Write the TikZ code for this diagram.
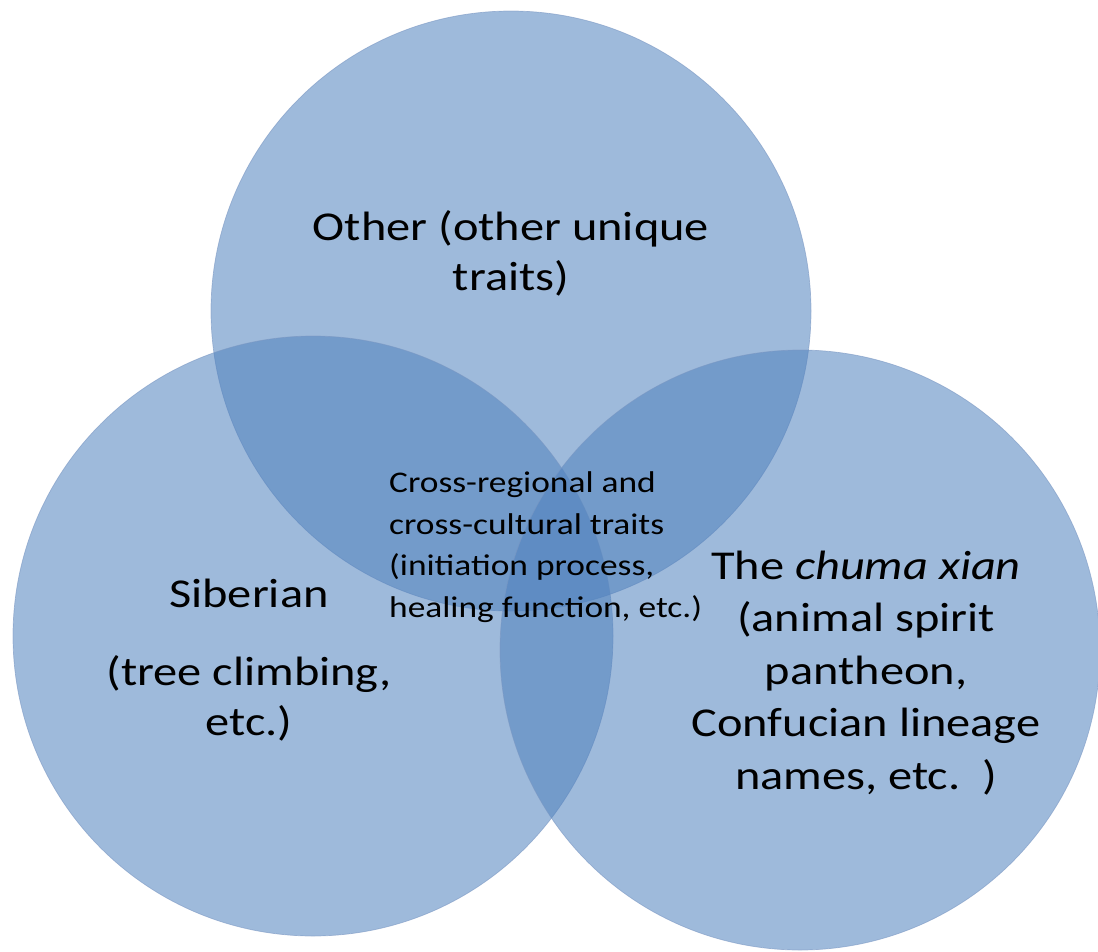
\documentclass[tikz,border=0pt]{standalone}
\usepackage{fontspec}
\setmainfont{Carlito}[FakeStretch=1.18]
\usepackage{tikz}
\definecolor{vennblue}{HTML}{4F81BD}
\definecolor{vennline}{HTML}{7A97C2}
\tikzset{
    venn/.style = {circle, minimum size=600pt, inner sep=0pt, fill=vennblue, fill opacity=0.55, draw=vennline, draw opacity=0.6, line width=0.7pt},
    big_text/.style = {align=center, inner sep=0pt, text=black, font=\fontsize{41}{50}\selectfont},
    small_text/.style = {align=left, inner sep=0pt, text=black, font=\fontsize{30}{41.5}\selectfont}
}

\begin{document}
\begin{tikzpicture}[x=1pt, y=-1pt]
    \useasboundingbox (0,0) rectangle (1098,951);
    % three sets
    \node [venn] (other) at (511,311) {};
    \node [venn] (siberian) at (313,636) {};
    \node [venn] (chuma) at (800,650) {};
    % labels
    \node [big_text] (other_label) at (511,253) {Other (other unique\\traits)};
    \node [big_text] (siberian_label) at (249,660) {Siberian\\[28pt](tree climbing,\\etc.)};
    \node [big_text, font=\fontsize{41}{52.5}\selectfont] (chuma_label) at (866,673) {The \textit{chuma xian}\\(animal spirit\\pantheon,\\Confucian lineage\\names, etc.~~)};
    \node [small_text, anchor=west] (cross_label) at (389,547) {Cross-regional and\\cross-cultural traits\\(initiation process,\\healing function, etc.)};
\end{tikzpicture}
\end{document}
